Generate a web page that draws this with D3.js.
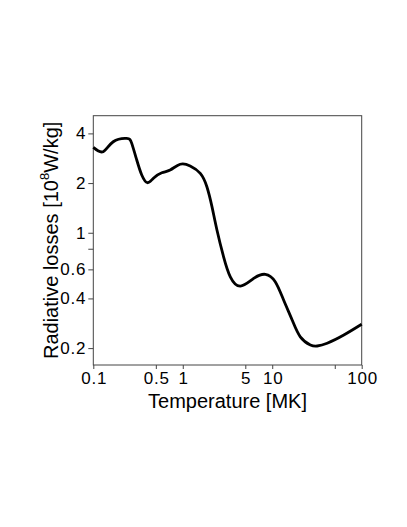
<!DOCTYPE html>
<html>
<head>
<meta charset="utf-8">
<script src="https://cdn.jsdelivr.net/npm/d3@7"></script>
<style>
  html, body { margin: 0; padding: 0; background: #fff; }
  svg { display: block; font-family: "Liberation Sans", Arial, Helvetica, sans-serif; }
</style>
</head>
<body>
<div id="chart"></div>
<script>
// temperature in MK, radiative losses in 1e8 W/kg
var temperature = [0.1, 0.129, 0.167, 0.236, 0.269, 0.306, 0.348, 0.403, 0.47, 0.583, 0.723, 0.935,
  1.21, 1.57, 1.86, 2.12, 2.41, 2.86, 3.4, 4.4, 6.2, 8.38, 10.8, 13.4, 16.7, 20.6, 26.7, 31.8, 41.1, 63.1, 100];
var losses = [3.29, 3.10, 3.56, 3.73, 3.48, 2.76, 2.24, 2.01, 2.14, 2.31, 2.40, 2.60,
  2.54, 2.29, 1.90, 1.44, 1.04, 0.715, 0.541, 0.475, 0.529, 0.560, 0.505, 0.391, 0.296, 0.234, 0.209, 0.206, 0.214, 0.240, 0.279];

var xTicks = [0.1, 0.5, 1, 5, 10, 50, 100];
var xTickLabels = ["0.1", "0.5", "1", "5", "10", "", "100"];
var yTicks = [0.2, 0.4, 0.6, 0.8, 1, 2, 4];
var yTickLabels = ["0.2", "0.4", "0.6", "", "1", "2", "4"];

var W = 407, H = 527;
var margin = {left: 93.3, top: 115.7, right: 45.3, bottom: 162};
var w = W - margin.left - margin.right,
    h = H - margin.top - margin.bottom;

var svg = d3.select("#chart").append("svg")
  .attr("width", W).attr("height", H);
svg.append("rect").attr("width", W).attr("height", H).attr("fill", "#fff");

var g = svg.append("g").attr("transform", "translate(" + margin.left + "," + margin.top + ")");

var x = d3.scaleLog().domain([0.1, 100]).range([0, w]);
var y = d3.scaleLog().domain([0.158, 5.12]).range([h, 0]);

var xAxis = d3.axisBottom(x).tickValues(xTicks)
  .tickFormat(function(d, i) { return xTickLabels[i]; })
  .tickSize(4).tickPadding(3);
var yAxis = d3.axisLeft(y).tickValues(yTicks)
  .tickFormat(function(d, i) { return yTickLabels[i]; })
  .tickSize(5).tickPadding(2);

var gx = g.append("g").attr("transform", "translate(0," + h + ")").call(xAxis);
var gy = g.append("g").call(yAxis);

[gx, gy].forEach(function(a) {
  a.select(".domain").remove();
  a.selectAll(".tick line").attr("stroke", "#444").attr("stroke-width", 1);
  a.selectAll(".tick text")
    .attr("fill", "#000")
    .style("font-size", "17px")
    .style("letter-spacing", "0.8px");
});
gx.selectAll(".tick text").attr("dy", "0.71em").attr("dx", "0.4px");

// frame
g.append("rect")
  .attr("width", w).attr("height", h)
  .attr("fill", "none")
  .attr("stroke", "#444")
  .attr("stroke-width", 1);

var line = d3.line()
  .x(function(d, i) { return x(temperature[i]); })
  .y(function(d) { return y(d); })
  .curve(d3.curveNatural);

g.append("path")
  .datum(losses)
  .attr("d", line)
  .attr("fill", "none")
  .attr("stroke", "#000")
  .attr("stroke-width", 2.8)
  .attr("stroke-linejoin", "round");

// axis titles
svg.append("text")
  .attr("x", margin.left + w / 2)
  .attr("y", 407.7)
  .attr("text-anchor", "middle")
  .style("font-size", "20px")
  .text("Temperature [MK]");

var yt = svg.append("text")
  .attr("transform", "translate(57.5," + (margin.top + h / 2) + ") rotate(-90)")
  .attr("text-anchor", "middle")
  .style("font-size", "20px");
yt.append("tspan").text("Radiative losses [10");
yt.append("tspan").attr("dy", -9).style("font-size", "13px").text("8");
yt.append("tspan").attr("dy", 9).text("W/kg]");
</script>
</body>
</html>
